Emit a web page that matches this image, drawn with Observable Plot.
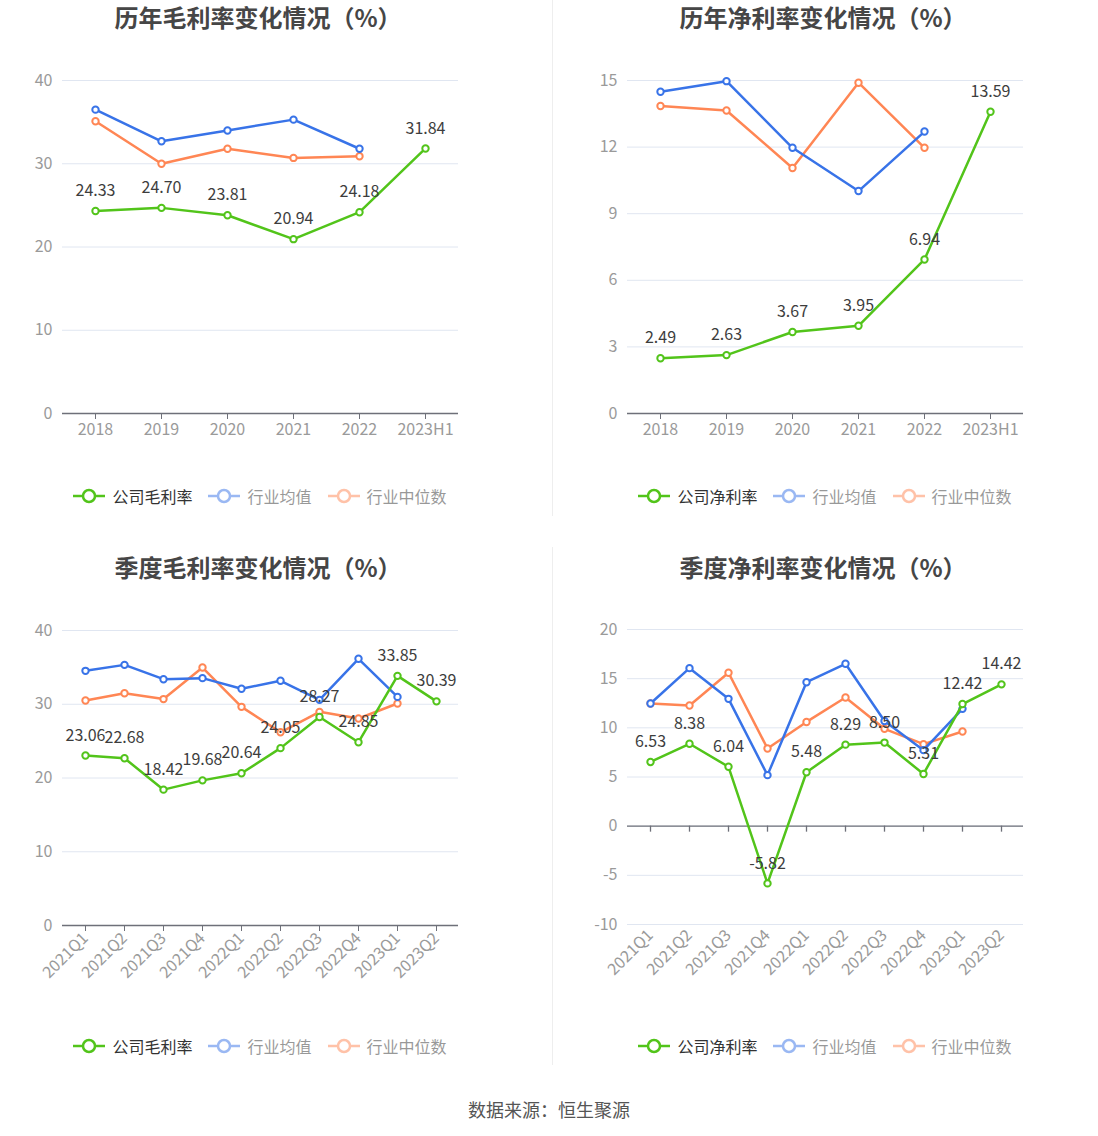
<!DOCTYPE html>
<html><head><meta charset="utf-8">
<script src="https://cdn.jsdelivr.net/npm/d3@7"></script>
<script src="https://cdn.jsdelivr.net/npm/@observablehq/plot@0.6"></script>
<style>
body{margin:0;background:#fff;font-family:"Noto Sans CJK SC","Noto Sans",sans-serif;}
#root{position:relative;width:1098px;height:1136px;overflow:hidden;}
.panel{position:absolute;width:553px;height:550px;}
.panel svg.plot{position:absolute;left:0;top:0;}
.title{position:absolute;top:0;font-weight:bold;font-size:24px;color:#464646;text-align:center;line-height:34px;white-space:nowrap;}
.legend{position:absolute;top:484px;height:24px;display:flex;justify-content:center;align-items:center;font-size:16px;color:#333;white-space:nowrap;}
.item{display:flex;align-items:center;margin:0 8px;}
.item svg{margin-right:7px;}
.item.faded{opacity:0.5;}
.divider{position:absolute;left:552px;width:1px;background:#eeeeee;}
.footer{position:absolute;top:1096px;left:0;width:1098px;text-align:center;font-size:18px;color:#555;line-height:26px;}
</style>
</head><body>
<div id="root"></div>
<script>
// ---------- data ----------
const yearCats = ["2018","2019","2020","2021","2022","2023H1"];
const quarterCats = ["2021Q1","2021Q2","2021Q3","2021Q4","2022Q1","2022Q2","2022Q3","2022Q4","2023Q1","2023Q2"];

const yearGrossCompany = [24.33,24.70,23.81,20.94,24.18,31.84];
const yearGrossAvg     = [36.5,32.7,34.0,35.3,31.8];
const yearGrossMedian  = [35.1,30.0,31.8,30.7,30.9];

const yearNetCompany = [2.49,2.63,3.67,3.95,6.94,13.59];
const yearNetAvg     = [14.49,14.97,11.97,10.02,12.7];
const yearNetMedian  = [13.85,13.65,11.06,14.9,11.97];

const qGrossCompany = [23.06,22.68,18.42,19.68,20.64,24.05,28.27,24.85,33.85,30.39];
const qGrossAvg     = [34.53,35.34,33.4,33.54,32.1,33.18,30.6,36.16,31.0];
const qGrossMedian  = [30.5,31.5,30.7,34.98,29.65,26.2,28.97,28.07,30.1];

const qNetCompany = [6.53,8.38,6.04,-5.82,5.48,8.29,8.50,5.31,12.42,14.42];
const qNetAvg     = [12.47,16.07,12.95,5.19,14.64,16.51,10.7,7.73,11.93];
const qNetMedian  = [12.47,12.27,15.6,7.9,10.6,13.08,9.9,8.34,9.63];

const ticksGross = [0,10,20,30,40];
const ticksNetYear = [0,3,6,9,12,15];
const ticksNetQuarter = [-10,-5,0,5,10,15,20];

const titles = ["历年毛利率变化情况（%）","历年净利率变化情况（%）","季度毛利率变化情况（%）","季度净利率变化情况（%）"];
const legendGross = ["公司毛利率","行业均值","行业中位数"];
const legendNet = ["公司净利率","行业均值","行业中位数"];
const footerText = "数据来源：恒生聚源";

const GREEN = "#52c41a", BLUE = "#3873e8", ORANGE = "#ff8654";

// ---------- drawing ----------
const root = document.getElementById("root");

function chart(o) {
  const rows = (vals) => vals.map((v, i) => ({cat: o.cats[i], v}));
  const comp = rows(o.company), avg = rows(o.avg), med = rows(o.median);
  const marks = [
    Plot.gridY(o.ticks, {stroke: "#e0e6f1", strokeOpacity: 1}),
    Plot.axisY(o.ticks, {tickSize: 0, tickPadding: 10, fill: "#9a9a9a", fontSize: 16, label: null, tickFormat: d => String(d)}),
  ];
  if (o.zeroAxis) {
    marks.push(Plot.axisX({tickSize: 0, tickPadding: 8, tickRotate: -45, fill: "#9a9a9a", fontSize: 16, label: null}));
    marks.push(Plot.ruleY([0], {stroke: "#6e7079", strokeWidth: 1.3}));
    marks.push(Plot.ruleX(o.cats, {x: d => d, y1: 0, y2: 0, insetBottom: -6, stroke: "#6e7079", strokeWidth: 1.3}));
  } else if (o.rotate) {
    marks.push(Plot.axisX({tickSize: 6, tickPadding: 4, tickRotate: -45, stroke: "#6e7079", fill: "#9a9a9a", fontSize: 16, label: null}));
    marks.push(Plot.ruleY([0], {stroke: "#6e7079", strokeWidth: 1.3}));
  } else {
    marks.push(Plot.axisX({tickSize: 6, tickPadding: 4, stroke: "#6e7079", fill: "#9a9a9a", fontSize: 16, label: null}));
    marks.push(Plot.ruleY([0], {stroke: "#6e7079", strokeWidth: 1.3}));
  }
  for (const [data, color] of [[med, ORANGE], [avg, BLUE], [comp, GREEN]]) {
    marks.push(Plot.line(data, {x: "cat", y: "v", stroke: color, strokeWidth: 2.5}));
    marks.push(Plot.dot(data, {x: "cat", y: "v", r: 3.2, stroke: color, strokeWidth: 2, fill: "white"}));
  }
  marks.push(Plot.text(comp, {x: "cat", y: "v", text: d => d.v.toFixed(2), dy: -20, fill: "#3d3d3d", fontSize: 16}));
  const svg = Plot.plot({
    width: 553, height: 450,
    marginLeft: o.ml, marginRight: 553 - o.ml - 396,
    marginTop: o.mt, marginBottom: o.mb,
    x: {type: "point", domain: o.cats, padding: 0.5, axis: null},
    y: {domain: o.domain, axis: null},
    style: {fontFamily: '"Noto Sans CJK SC","Noto Sans",sans-serif', background: "transparent", overflow: "visible"},
    marks
  });
  svg.classList.add("plot");
  return svg;
}

function legendItem(name, color, faded) {
  const it = document.createElement("div");
  it.className = "item" + (faded ? " faded" : "");
  it.innerHTML = `<svg width="32" height="16"><line x1="0" y1="8" x2="32" y2="8" stroke="${color}" stroke-width="2.5"/><circle cx="16" cy="8" r="6" fill="white" stroke="${color}" stroke-width="2.5"/></svg><span>${name}</span>`;
  return it;
}

function panel(left, top, title, legendNames, plotOpts) {
  const p = document.createElement("div");
  p.className = "panel";
  p.style.left = left + "px";
  p.style.top = top + "px";
  p.appendChild(chart(plotOpts));
  const t = document.createElement("div");
  t.className = "title";
  t.style.left = (plotOpts.ml - 2) + "px";
  t.style.width = "396px";
  t.textContent = title;
  p.appendChild(t);
  const lg = document.createElement("div");
  lg.className = "legend";
  lg.style.left = plotOpts.ml + "px";
  lg.style.width = "396px";
  lg.appendChild(legendItem(legendNames[0], GREEN, false));
  lg.appendChild(legendItem(legendNames[1], BLUE, true));
  lg.appendChild(legendItem(legendNames[2], ORANGE, true));
  p.appendChild(lg);
  root.appendChild(p);
}

panel(0, 0, titles[0], legendGross, {cats: yearCats, company: yearGrossCompany, avg: yearGrossAvg, median: yearGrossMedian, domain: [0, 40], ticks: ticksGross, ml: 62, mt: 80, mb: 37});
panel(553, 0, titles[1], legendNet, {cats: yearCats, company: yearNetCompany, avg: yearNetAvg, median: yearNetMedian, domain: [0, 15], ticks: ticksNetYear, ml: 74, mt: 80, mb: 37});
panel(0, 550, titles[2], legendGross, {cats: quarterCats, company: qGrossCompany, avg: qGrossAvg, median: qGrossMedian, domain: [0, 40], ticks: ticksGross, ml: 62, mt: 80, mb: 75, rotate: true});
panel(553, 550, titles[3], legendNet, {cats: quarterCats, company: qNetCompany, avg: qNetAvg, median: qNetMedian, domain: [-10, 20], ticks: ticksNetQuarter, ml: 74, mt: 79, mb: 76, zeroAxis: true});

for (const [t, h] of [[0, 516], [547, 518]]) {
  const d = document.createElement("div");
  d.className = "divider";
  d.style.top = t + "px";
  d.style.height = h + "px";
  root.appendChild(d);
}
const f = document.createElement("div");
f.className = "footer";
f.textContent = footerText;
root.appendChild(f);
</script>
</body></html>
